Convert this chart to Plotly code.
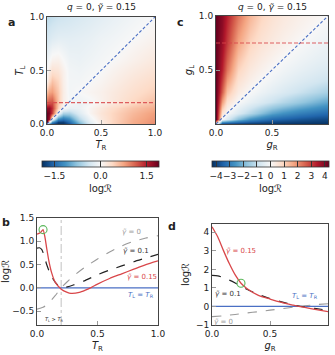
import plotly.graph_objects as go

W, H = 335, 355

# ---- panel a: log R over (T_R, T_L), gamma = 0.15 ----
a_tr = [0, 0.02, 0.05, 0.1, 0.15, 0.2, 0.3, 0.4, 0.5, 0.6, 0.8, 1.0]
a_tl = [0, 0.02, 0.05, 0.1, 0.15, 0.2, 0.3, 0.4, 0.5, 0.6, 0.8, 1.0]
a_logr = [
    [-0.5, -1.4, -1.8, -1.9, -1.9, -1.7, -1.0, -0.3, 0.15, 0.4, 0.7, 0.9],
    [1.9, 0.0, -1.2, -1.8, -1.8, -1.5, -0.8, -0.2, 0.15, 0.4, 0.7, 0.88],
    [1.9, 1.6, 0.0, -1.2, -1.4, -1.2, -0.55, -0.1, 0.2, 0.4, 0.68, 0.85],
    [1.9, 1.8, 1.3, 0.0, -0.6, -0.6, -0.25, 0.05, 0.25, 0.4, 0.62, 0.8],
    [1.7, 1.7, 1.4, 0.45, 0.0, -0.15, -0.12, 0.05, 0.2, 0.35, 0.55, 0.7],
    [1.15, 1.2, 1.25, 0.55, 0.12, 0.0, -0.12, -0.04, 0.08, 0.2, 0.4, 0.58],
    [0.6, 0.75, 0.8, 0.5, 0.15, -0.05, 0.0, 0.05, 0.1, 0.18, 0.32, 0.45],
    [0.1, 0.35, 0.55, 0.4, 0.12, -0.05, -0.05, 0.0, 0.05, 0.12, 0.25, 0.36],
    [0.0, 0.15, 0.3, 0.25, 0.1, -0.06, -0.08, -0.04, 0.0, 0.07, 0.18, 0.28],
    [-0.1, -0.02, 0.08, 0.1, 0.0, -0.1, -0.12, -0.08, -0.04, 0.0, 0.1, 0.2],
    [-0.35, -0.3, -0.25, -0.2, -0.2, -0.2, -0.18, -0.15, -0.1, -0.07, 0.0, 0.08],
    [-0.5, -0.48, -0.45, -0.4, -0.38, -0.35, -0.3, -0.25, -0.2, -0.15, -0.07, 0.0],
]
a_cut_tl = 0.2

# ---- panel c: log R over (g_R, g_L), gamma = 0.15 ----
c_gr = [0, 0.05, 0.1, 0.2, 0.3, 0.4, 0.5, 0.6, 0.75, 0.9, 1.0]
c_gl = [0, 0.05, 0.1, 0.2, 0.3, 0.4, 0.5, 0.6, 0.75, 0.9, 1.0]
c_logr = [
    [0.0, -4.3, -4.3, -4.3, -4.3, -4.3, -4.3, -4.3, -4.3, -4.3, -4.3],
    [4.3, 0.0, -0.65, -1.8, -2.6, -3.0, -3.35, -3.5, -3.7, -3.85, -3.9],
    [4.3, 0.65, 0.0, -0.65, -1.25, -1.8, -2.3, -2.6, -2.95, -3.2, -3.35],
    [4.3, 1.8, 0.65, 0.0, -0.37, -0.65, -0.95, -1.25, -1.65, -2.05, -2.3],
    [4.3, 2.6, 1.25, 0.37, 0.0, -0.25, -0.45, -0.65, -0.95, -1.25, -1.45],
    [4.3, 3.0, 1.8, 0.65, 0.25, 0.0, -0.2, -0.37, -0.6, -0.8, -0.95],
    [4.3, 3.35, 2.3, 0.95, 0.45, 0.2, 0.0, -0.17, -0.37, -0.55, -0.65],
    [4.3, 3.5, 2.6, 1.25, 0.65, 0.37, 0.17, 0.0, -0.2, -0.37, -0.45],
    [4.3, 3.7, 3.0, 1.7, 0.95, 0.6, 0.4, 0.22, 0.0, -0.17, -0.28],
    [4.3, 3.85, 3.2, 2.05, 1.25, 0.8, 0.55, 0.37, 0.17, 0.0, -0.1],
    [4.3, 3.9, 3.35, 2.3, 1.45, 0.95, 0.65, 0.45, 0.25, 0.1, 0.0],
]
c_cut_gl = 0.75

# ---- panel b: cut at T_L = 0.2 ----
b_red_x = [0, 0.03, 0.05, 0.065, 0.08, 0.1, 0.12, 0.15, 0.2, 0.25, 0.28, 0.35,
           0.4, 0.45, 0.5, 0.6, 0.7, 0.8, 0.9, 1.0]
b_red_y = [1.15, 1.19, 1.25, 1.1, 0.85, 0.55, 0.33, 0.12, -0.03, -0.1, -0.12, -0.1,
           -0.05, 0.01, 0.08, 0.2, 0.3, 0.4, 0.5, 0.58]
b_blk_x = [0, 0.02, 0.04, 0.06, 0.08, 0.1, 0.13, 0.16, 0.2, 0.25, 0.3, 0.4, 0.5,
           0.6, 0.7, 0.8, 0.9, 1.0]
b_blk_y = [0.85, 0.86, 0.82, 0.68, 0.5, 0.36, 0.2, 0.09, 0.0, 0.02, 0.06, 0.16, 0.28,
           0.38, 0.47, 0.56, 0.64, 0.72]
b_gry_x = [0, 0.05, 0.1, 0.15, 0.2, 0.25, 0.3, 0.4, 0.5, 0.6, 0.7, 0.8, 0.9, 1.0]
b_gry_y = [-0.46, -0.42, -0.32, -0.17, 0.0, 0.13, 0.25, 0.45, 0.62, 0.77, 0.9, 1.0, 1.07, 1.12]
b_mark = (0.05, 1.25)

# ---- panel d: cut at g_L = 0.75 ----
d_x = [0, 0.05, 0.1, 0.15, 0.2, 0.25, 0.3, 0.4, 0.5, 0.6, 0.7, 0.75, 0.8, 0.9, 1.0]
d_red_y = [4.3, 3.75, 3.0, 2.3, 1.7, 1.25, 0.97, 0.6, 0.4, 0.22, 0.07, 0.0, -0.05, -0.17, -0.28]
d_blk_y = [1.68, 1.65, 1.55, 1.42, 1.27, 1.1, 0.93, 0.65, 0.43, 0.25, 0.09, 0.02, -0.03, -0.12, -0.2]
d_gry_x = [0, 0.1, 0.2, 0.3, 0.4, 0.5, 0.6, 0.7, 0.75, 0.8, 0.9, 1.0]
d_gry_y = [-0.55, -0.5, -0.43, -0.35, -0.28, -0.2, -0.12, -0.04, 0.0, 0.04, 0.1, 0.15]
d_mark = (0.25, 1.25)

RDBU_R = [
    [0.0, "#053061"], [0.1, "#2166ac"], [0.2, "#4393c3"], [0.3, "#92c5de"],
    [0.4, "#d1e5f0"], [0.5, "#f7f7f7"], [0.6, "#fddbc7"], [0.7, "#f4a582"],
    [0.8, "#d6604d"], [0.9, "#b2182b"], [1.0, "#67001f"],
]
RED, BLUE, BLK, GRY = "#d9474a", "#4a6fc4", "#222222", "#9a9a9a"
FONT = "DejaVu Sans"


def px_x(a, b):
    return [a / W, b / W]


def px_y(top, bottom):
    return [1 - bottom / H, 1 - top / H]


fig = go.Figure()


def cbar(cx, ticks, labels):
    return dict(
        orientation="h", x=cx / W, xanchor="center", y=1 - 161 / H, yanchor="top",
        len=117 / W, lenmode="fraction", thickness=6, xpad=0, ypad=0,
        outlinewidth=0.8, outlinecolor="#333", ticks="inside", ticklen=6,
        tickcolor="#333", tickwidth=0.8, tickvals=ticks, ticktext=labels, tickangle=0,
        tickfont=dict(size=9, color="#222"),
        title=dict(text="log\u211b", side="bottom", font=dict(size=10)),
    )


fig.add_trace(go.Heatmap(
    x=a_tr, y=a_tl, z=a_logr, zmin=-1.9, zmax=1.9, zsmooth="best",
    colorscale=RDBU_R, xaxis="x", yaxis="y",
    colorbar=cbar(100.5, [-1.5, 0, 1.5], ["\u22121.5", "0.0", "1.5"]),
))
fig.add_trace(go.Heatmap(
    x=c_gr, y=c_gl, z=c_logr, zmin=-4.3, zmax=4.3, zsmooth="best",
    colorscale=RDBU_R, xaxis="x2", yaxis="y2",
    colorbar=cbar(270.5, [-4, -3, -2, -1, 0, 1, 2, 3, 4],
                  ["\u22124", "\u22123", "\u22122", "\u22121", "0", "1", "2", "3", "4"]),
))

# guide lines on the maps
for xa, ya, cut in (("x", "y", a_cut_tl), ("x2", "y2", c_cut_gl)):
    fig.add_trace(go.Scatter(x=[0, 1], y=[0, 1], mode="lines", xaxis=xa, yaxis=ya,
                             line=dict(color=BLUE, width=1.1, dash="3px,2px"), showlegend=False))
    fig.add_trace(go.Scatter(x=[0, 1], y=[cut, cut], mode="lines", xaxis=xa, yaxis=ya,
                             line=dict(color=RED, width=1.2, dash="4px,2px"), opacity=0.85,
                             showlegend=False))

# panel b
fig.add_trace(go.Scatter(x=[0.2, 0.2], y=[-0.8, 1.5], mode="lines", xaxis="x3", yaxis="y3",
                         line=dict(color="#cccccc", width=1.2, dash="dashdot"), showlegend=False))
fig.add_trace(go.Scatter(x=[0, 1], y=[0, 0], mode="lines", xaxis="x3", yaxis="y3",
                         line=dict(color=BLUE, width=1.3), showlegend=False))
fig.add_trace(go.Scatter(x=b_gry_x, y=b_gry_y, mode="lines", xaxis="x3", yaxis="y3",
                         line=dict(color=GRY, width=1.1, dash="dash", shape="spline", smoothing=0.6),
                         showlegend=False))
fig.add_trace(go.Scatter(x=b_blk_x, y=b_blk_y, mode="lines", xaxis="x3", yaxis="y3",
                         line=dict(color=BLK, width=1.2, dash="dash", shape="spline", smoothing=0.6),
                         showlegend=False))
fig.add_trace(go.Scatter(x=b_red_x, y=b_red_y, mode="lines", xaxis="x3", yaxis="y3",
                         line=dict(color=RED, width=1.3, shape="spline", smoothing=0.5),
                         showlegend=False))
fig.add_trace(go.Scatter(x=[b_mark[0]], y=[b_mark[1]], mode="markers", xaxis="x3", yaxis="y3",
                         marker=dict(symbol="circle-open", size=8, color="#5cb85c",
                                     line=dict(width=1.1)), showlegend=False))

# panel d
fig.add_trace(go.Scatter(x=[0, 1], y=[0, 0], mode="lines", xaxis="x4", yaxis="y4",
                         line=dict(color=BLUE, width=1.3), showlegend=False))
fig.add_trace(go.Scatter(x=d_gry_x, y=d_gry_y, mode="lines", xaxis="x4", yaxis="y4",
                         line=dict(color=GRY, width=1.1, dash="dash", shape="spline", smoothing=0.6),
                         showlegend=False))
fig.add_trace(go.Scatter(x=d_x, y=d_blk_y, mode="lines", xaxis="x4", yaxis="y4",
                         line=dict(color=BLK, width=1.2, dash="dash", shape="spline", smoothing=0.6),
                         showlegend=False))
fig.add_trace(go.Scatter(x=d_x, y=d_red_y, mode="lines", xaxis="x4", yaxis="y4",
                         line=dict(color=RED, width=1.3, shape="spline", smoothing=0.6),
                         showlegend=False))
fig.add_trace(go.Scatter(x=[d_mark[0]], y=[d_mark[1]], mode="markers", xaxis="x4", yaxis="y4",
                         marker=dict(symbol="circle-open", size=8, color="#5cb85c",
                                     line=dict(width=1.1)), showlegend=False))

ax = dict(showline=True, mirror=True, linecolor="#444", linewidth=1, ticks="inside",
          ticklen=4, tickcolor="#999", tickwidth=1.2, showgrid=False, zeroline=False,
          tickfont=dict(size=9, color="#222"))


def axis(dom, rng, tv, tt, title, anchor, standoff=4):
    d = dict(ax, domain=dom, range=rng, tickvals=tv, ticktext=tt, anchor=anchor)
    d["title"] = dict(text=title, font=dict(size=10), standoff=standoff)
    return d


TR = "<i>T</i><sub>R</sub>"
TL = "<i>T</i><sub>L</sub>"
GR = "<i>g</i><sub>R</sub>"
GL = "<i>g</i><sub>L</sub>"
LOGR = "log\u211b"
unit = [0, 0.5, 1]
unit_t = ["0.0", "0.5", "1.0"]

fig.update_layout(
    width=W, height=H, margin=dict(l=0, r=0, t=0, b=0, autoexpand=False),
    paper_bgcolor="white", plot_bgcolor="white",
    font=dict(family=FONT, size=9, color="#222"),
    xaxis=axis(px_x(47, 155), [0, 1], unit, unit_t, TR, "y"),
    yaxis=axis(px_y(17, 124), [0, 1], unit, unit_t, TL, "x"),
    xaxis2=axis(px_x(216, 328), [0, 1], unit, unit_t, GR, "y2"),
    yaxis2=axis(px_y(16, 124), [0, 1], [0.5, 1], ["0.5", "1.0"], GL, "x2"),
    xaxis3=axis(px_x(37, 158), [0, 1], unit, unit_t, TR, "y3"),
    yaxis3=axis(px_y(218, 325), [-0.8, 1.5], [-0.5, 0, 0.5, 1, 1.5],
                ["\u22120.5", "0.0", "0.5", "1.0", "1.5"], LOGR, "x3"),
    xaxis4=axis(px_x(212, 328), [0, 1], unit, unit_t, GR, "y4"),
    yaxis4=axis(px_y(224, 325), [-1, 4.45], [-1, 0, 1, 2, 3, 4],
                ["\u22121", "0", "1", "2", "3", "4"], LOGR, "x4"),
)

title_txt = "<i>q</i> = 0, <i>\u03b3\u0303</i> = 0.15"
ann = [
    dict(x=101 / W, y=1 - 7 / H, text=title_txt, font=dict(size=9)),
    dict(x=272 / W, y=1 - 7 / H, text=title_txt, font=dict(size=9)),
    dict(x=11 / W, y=1 - 22 / H, text="<b>a</b>", font=dict(size=11)),
    dict(x=180 / W, y=1 - 22 / H, text="<b>c</b>", font=dict(size=11)),
    dict(x=6 / W, y=1 - 222 / H, text="<b>b</b>", font=dict(size=11)),
    dict(x=172 / W, y=1 - 226 / H, text="<b>d</b>", font=dict(size=11)),
]
for a in ann:
    a.update(xref="paper", yref="paper", showarrow=False, xanchor="center", yanchor="middle")

g = "<i>\u03b3\u0303</i>"
labels = [
    ("x3", "y3", 0.78, 1.2, g + " = 0", GRY),
    ("x3", "y3", 0.82, 0.8, g + " = 0.1", "#333"),
    ("x3", "y3", 0.87, 0.24, g + " = 0.15", RED),
    ("x3", "y3", 0.86, -0.16, TL + " = " + TR, BLUE),
    ("x4", "y4", 0.25, 3.0, g + " = 0.15", RED),
    ("x4", "y4", 0.14, 0.65, g + " = 0.1", "#333"),
    ("x4", "y4", 0.1, -0.85, g + " = 0", GRY),
    ("x4", "y4", 0.8, 0.55, TL + " = " + TR, BLUE),
]
for xr, yr, x, y, t, c in labels:
    ann.append(dict(x=x, y=y, xref=xr, yref=yr, text=t, showarrow=False,
                    font=dict(size=7, color=c)))
ann.append(dict(x=0.14, y=-0.69, xref="x3", yref="y3", text=TL + " > " + TR,
                showarrow=False, font=dict(size=5, color="#222")))
fig.update_layout(annotations=ann)

# the page gets the browser's default 8px body margin; drop it so pixels line up
fig.write_html("out.html", config={"displayModeBar": False},
               post_script="document.body.style.margin='0';")
